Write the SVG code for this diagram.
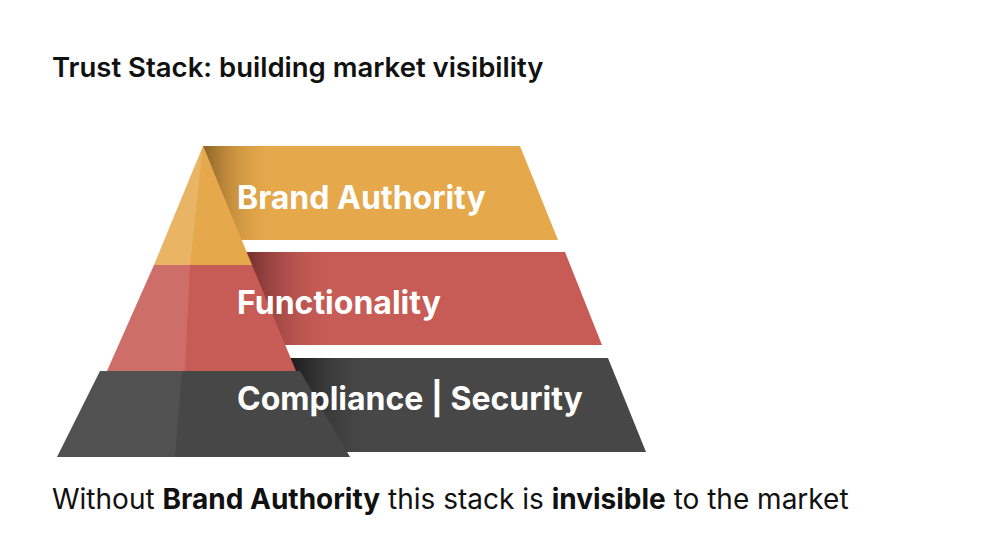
<svg xmlns="http://www.w3.org/2000/svg" width="991" height="551" viewBox="0 0 991 551">
<style>
text{font-family:Inter,"Liberation Sans",sans-serif}
.t{font-size:27.5px;font-weight:600;fill:#111}
.l{font-size:32px;font-weight:700;fill:#fff}
.b{font-size:28px;fill:#111}
</style>
<defs>
<linearGradient id="sy" x1="0" x2="1"><stop offset="0" stop-color="#8a6226"/><stop offset="0.45" stop-color="#e5a84b" stop-opacity="0"/></linearGradient>
<linearGradient id="sr" x1="0" x2="1"><stop offset="0.1" stop-color="#7a3433"/><stop offset="0.5" stop-color="#c75b55" stop-opacity="0"/></linearGradient>
<linearGradient id="sd" x1="0" x2="1"><stop offset="0.1" stop-color="#1c1c1c"/><stop offset="0.5" stop-color="#474747" stop-opacity="0"/></linearGradient>
</defs>
<rect width="991" height="551" fill="#fff"/>
<text class="t" x="52" y="77">Trust Stack: building market visibility</text>
<g id="band-brand"><polygon points="203,146 520,146 558,240 240,240" fill="#e5a84b"/><polygon points="203,146 320,146 358,240 240,240" fill="url(#sy)"/></g>
<g id="band-func"><polygon points="230,252 565,252 602,345 270,345" fill="#c75b55"/><polygon points="230,252 400,252 437,345 270,345" fill="url(#sr)"/></g>
<g id="band-comp"><polygon points="270,358 608,358 646,452 310,452" fill="#474747"/><polygon points="270,358 440,358 478,452 310,452" fill="url(#sd)"/></g>
<g id="pyramid">
<polygon points="203,146 154,265 252,265" fill="#e5a84b"/>
<polygon points="203,146 154,265 190,265" fill="#fff" opacity="0.15"/>
<polygon points="154,265 252,265 296,371 107,371" fill="#c75b55"/>
<polygon points="154,265 190,265 185,371 107,371" fill="#fff" opacity="0.12"/>
<polygon points="100,371 300,371 350,457 57,457" fill="#474747"/>
<polygon points="100,371 182,371 175,457 57,457" fill="#fff" opacity="0.06"/>
</g>
<g id="labels">
<text class="l" x="237" y="209">Brand Authority</text>
<text class="l" x="237" y="314">Functionality</text>
<text class="l" x="237" y="410">Compliance | Security</text>
</g>
<text class="b" x="52" y="509">Without <tspan font-weight="700">Brand Authority</tspan> this stack is <tspan font-weight="700">invisible</tspan> to the market</text>
</svg>
